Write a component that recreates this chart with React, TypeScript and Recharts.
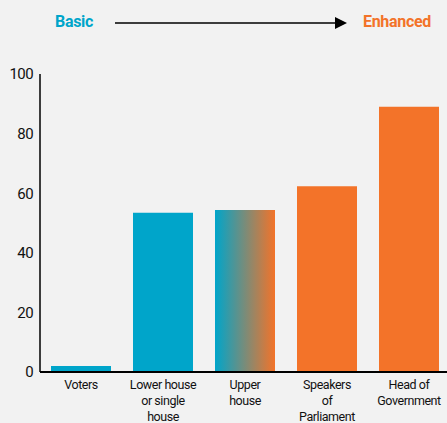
import React from "react";
import { Bar, BarChart, Cell, XAxis, YAxis } from "recharts";

const categories = [
  "Voters",
  "Lower house\nor single\nhouse",
  "Upper\nhouse",
  "Speakers\nof\nParliament",
  "Head of\nGovernment",
];
const values = [2, 53.4, 54.4, 62.3, 89];
const fills = ["blue", "blue", "gradient", "orange", "orange"];
const yTicks = [0, 20, 40, 60, 80, 100];

const BLUE = "#00A5CA";
const ORANGE = "#F37329";
const FONT = "Roboto, 'Noto Sans', sans-serif";

const data = categories.map((name, i) => ({ name, value: values[i], fill: fills[i] }));

const CategoryTick = ({ x, y, payload }: any) => {
  const lines = String(payload.value).split("\n");
  return (
    <text
      x={x}
      y={y}
      textAnchor="middle"
      fill="#111"
      fontSize={12.5}
      fontFamily={FONT}
      letterSpacing={-0.45}
    >
      {lines.map((line, i) => (
        <tspan key={i} x={x} dy={i === 0 ? 9 : 16}>
          {line}
        </tspan>
      ))}
    </text>
  );
};

export default function App() {
  return (
    <div
      style={{
        position: "absolute",
        left: 0,
        top: 0,
        width: 447,
        height: 423,
        overflow: "hidden",
        background: "#F2F2F2",
        fontFamily: FONT,
      }}
    >
      <div
        style={{
          position: "absolute",
          left: 55,
          top: 12,
          fontSize: 16,
          fontWeight: 700,
          color: BLUE,
          letterSpacing: -0.3,
        }}
      >
        Basic
      </div>
      <svg
        width={447}
        height={40}
        style={{ position: "absolute", left: 0, top: 0 }}
      >
        <line x1={115} y1={23} x2={337} y2={23} stroke="#000" strokeWidth={1.5} />
        <polygon points="335,17 347,23 335,29" fill="#000" />
      </svg>
      <div
        style={{
          position: "absolute",
          left: 363,
          top: 12,
          fontSize: 16,
          fontWeight: 700,
          color: ORANGE,
          letterSpacing: -0.3,
        }}
      >
        Enhanced
      </div>
      <BarChart
        width={450}
        height={423}
        data={data}
        margin={{ top: 74, right: 0, bottom: 0, left: 0 }}
        barCategoryGap={11}
        style={{ position: "absolute", left: 0, top: 0 }}
      >
        <defs>
          <linearGradient id="upperGrad" x1="0" y1="0" x2="1" y2="0">
            <stop offset="0%" stopColor={BLUE} />
            <stop offset="100%" stopColor={ORANGE} />
          </linearGradient>
        </defs>
        <XAxis
          dataKey="name"
          interval={0}
          tickLine={false}
          stroke="#000"
          strokeWidth={2}
          tick={<CategoryTick />}
          height={51}
        />
        <YAxis
          width={40}
          domain={[0, 100]}
          ticks={yTicks}
          tickLine={false}
          tickSize={0}
          tickMargin={7}
          stroke="#000"
          strokeWidth={1.5}
          tick={{ fill: "#111", fontSize: 15, fontFamily: FONT, letterSpacing: -0.6 }}
        />
        <Bar dataKey="value" isAnimationActive={false}>
          {data.map((d, i) => (
            <Cell
              key={i}
              fill={d.fill === "blue" ? BLUE : d.fill === "orange" ? ORANGE : "url(#upperGrad)"}
            />
          ))}
        </Bar>
      </BarChart>
    </div>
  );
}
